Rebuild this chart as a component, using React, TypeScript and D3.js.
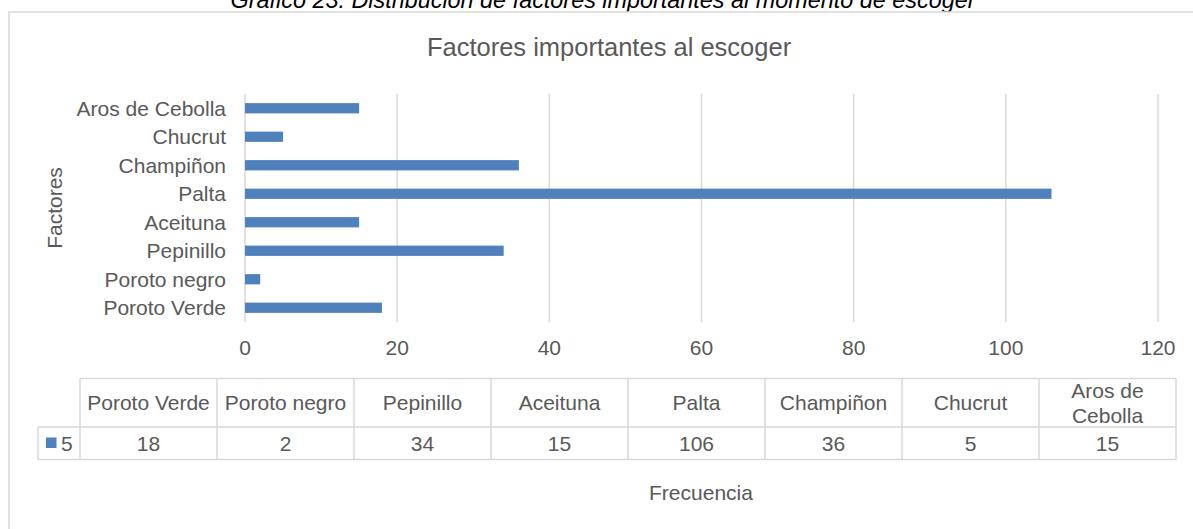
import React from "react";
import * as d3 from "d3";

const categories = ["Poroto Verde", "Poroto negro", "Pepinillo", "Aceituna", "Palta", "Champiñon", "Chucrut", "Aros de Cebolla"];
const values = [18, 2, 34, 15, 106, 36, 5, 15];
const xTicks = [0, 20, 40, 60, 80, 100, 120];
const seriesName = "5";
const caption = "Gráfico 23: Distribución de factores importantes al momento de escoger";
const chartTitle = "Factores importantes al escoger";
const xTitle = "Frecuencia";
const yTitle = "Factores";

const W = 1193;
const H = 529;
const FONT = "'Liberation Sans', Arial, Helvetica, sans-serif";
const TXT = "#595959";
const GRID = "#d9d9d9";
const BAR = "#4f81bd";
const FS = 21;

export default function App() {
  const x = d3.scaleLinear().domain([0, 120]).range([245, 1158]);
  const y = d3.scaleBand<string>().domain([...categories].reverse()).range([94, 322]).padding(0);
  const barH = y.step() * 0.36;

  const tx = d3.scaleBand<string>().domain(categories).range([80, 1176]).padding(0);
  const tTop = 378.5, tMid = 427, tBot = 459.5, legL = 38;

  const wrap = (s: string) => (s.length > 13 ? (() => {
    const parts = s.split(" ");
    const last = parts.pop() as string;
    return [parts.join(" "), last];
  })() : [s]);

  return (
    <svg width={W} height={H} style={{ position: "absolute", left: 0, top: 0, background: "#fff" }} fontFamily={FONT}>
      <rect x={0} y={0} width={W} height={H} fill="#fff" />
      <text x={603} y={7.5} fontSize={23.4} fontStyle="italic" textAnchor="middle" fill="#000">{caption}</text>
      <rect x={9} y={12} width={1400} height={800} fill="#fff" stroke={GRID} strokeWidth={1.5} />
      <text x={609} y={56} fontSize={25.5} textAnchor="middle" fill={TXT}>{chartTitle}</text>

      {xTicks.map((t) => (
        <line key={"g" + t} x1={x(t)} x2={x(t)} y1={94} y2={322} stroke={GRID} strokeWidth={1.5} />
      ))}
      {categories.map((c, i) => (
        <rect key={"b" + c} x={x(0)} y={(y(c) as number) + y.step() / 2 - barH / 2} width={x(values[i]) - x(0)} height={barH} fill={BAR} />
      ))}
      {categories.map((c) => (
        <text key={"l" + c} x={226} y={(y(c) as number) + y.step() / 2} dy="0.35em" fontSize={FS} textAnchor="end" fill={TXT}>{c}</text>
      ))}
      {xTicks.map((t) => (
        <text key={"t" + t} x={x(t)} y={355} fontSize={FS} textAnchor="middle" fill={TXT}>{t}</text>
      ))}
      <text transform={`translate(62,208) rotate(-90)`} fontSize={FS} textAnchor="middle" fill={TXT}>{yTitle}</text>

      {/* data table */}
      <g stroke={GRID} strokeWidth={1.5} fill="none">
        <line x1={tx.range()[0]} x2={tx.range()[1]} y1={tTop} y2={tTop} />
        <line x1={legL} x2={tx.range()[1]} y1={tMid} y2={tMid} />
        <line x1={legL} x2={tx.range()[1]} y1={tBot} y2={tBot} />
        <line x1={legL} x2={legL} y1={tMid} y2={tBot} />
        {categories.map((c) => (
          <line key={"v" + c} x1={tx(c) as number} x2={tx(c) as number} y1={tTop} y2={tBot} />
        ))}
        <line x1={tx.range()[1]} x2={tx.range()[1]} y1={tTop} y2={tBot} />
      </g>
      {categories.map((c) => {
        const lines = wrap(c);
        const cx = (tx(c) as number) + tx.bandwidth() / 2;
        const cy = (tTop + tMid) / 2;
        return (
          <text key={"h" + c} fontSize={FS} textAnchor="middle" fill={TXT}>
            {lines.map((ln, k) => (
              <tspan key={k} x={cx} y={cy + (k - (lines.length - 1) / 2) * 25} dy="0.35em">{ln}</tspan>
            ))}
          </text>
        );
      })}
      {categories.map((c, i) => (
        <text key={"v" + c} x={(tx(c) as number) + tx.bandwidth() / 2} y={(tMid + tBot) / 2} dy="0.35em" fontSize={FS} textAnchor="middle" fill={TXT}>{values[i]}</text>
      ))}
      <rect x={46} y={437.5} width={10.5} height={10.5} fill={BAR} />
      <text x={61} y={(tMid + tBot) / 2} dy="0.35em" fontSize={FS} fill={TXT}>{seriesName}</text>

      <text x={701} y={500} fontSize={FS} textAnchor="middle" fill={TXT}>{xTitle}</text>
    </svg>
  );
}
